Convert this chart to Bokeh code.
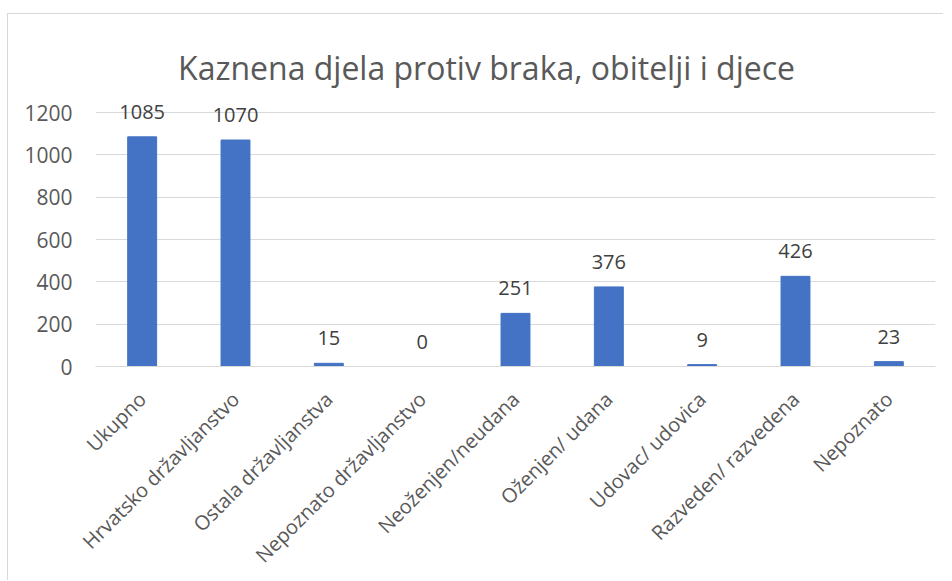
from bokeh.plotting import figure
from bokeh.models import ColumnDataSource, LabelSet, Label, FixedTicker, FactorRange
from bokeh.core.properties import value
from bokeh.embed import file_html
from bokeh.resources import INLINE

categories = ["Ukupno", "Hrvatsko državljanstvo", "Ostala državljanstva",
              "Nepoznato državljanstvo", "Neoženjen/neudana", "Oženjen/ udana",
              "Udovac/ udovica", "Razveden/ razvedena", "Nepoznato"]
values = [1085, 1070, 15, 0, 251, 376, 9, 426, 23]
y_ticks = [0, 200, 400, 600, 800, 1000, 1200]
title_text = "Kaznena djela protiv braka, obitelji i djece"

FONT = "Open Sans"

# page geometry (px)
OFF_X, OFF_Y = 8, 14          # canvas origin on page (after CSS margin + border)
FRAME_L, FRAME_R = 95, 935
FRAME_B = 366
PX_PER_1200 = 254.0
FRAME_T = OFF_Y + 1
W = 944 - OFF_X
H = 581 - OFF_Y
y_end = 1200 * (FRAME_B - FRAME_T) / PX_PER_1200

src = ColumnDataSource(dict(cat=categories, val=values, lab=[str(v) for v in values]))

p = figure(x_range=FactorRange(*categories), y_range=(0, y_end),
           width=W, height=H, output_backend="svg", toolbar_location=None,
           min_border_left=FRAME_L - OFF_X, min_border_right=OFF_X + W - FRAME_R,
           min_border_top=FRAME_T - OFF_Y, min_border_bottom=OFF_Y + H - FRAME_B)
p.styles = {"margin-left": "7px", "margin-top": "13px",
            "border-left": "1px solid #d9d9d9", "border-top": "1px solid #d9d9d9"}
p.outline_line_color = None
p.background_fill_color = "white"
p.border_fill_color = "white"

p.vbar(x="cat", top="val", width=0.31, source=src, color="#4472C4")

labels = LabelSet(x="cat", y="val", text="lab", source=src, text_align="center",
                  text_baseline="alphabetic", y_offset=18, text_font=value(FONT),
                  text_font_size=value("20px"), text_color=value("#404040"))
p.add_layout(labels)

p.yaxis.ticker = FixedTicker(ticks=y_ticks)
p.yaxis.axis_line_color = None
p.yaxis.major_tick_line_color = None
p.yaxis.minor_tick_line_color = None
p.yaxis.major_tick_out = 0
p.yaxis.major_label_standoff = 23
p.yaxis.major_label_text_font = FONT
p.yaxis.major_label_text_font_size = "21px"
p.yaxis.major_label_text_color = "#595959"

p.xaxis.axis_line_color = "#d9d9d9"
p.xaxis.major_tick_line_color = None
p.xaxis.minor_tick_line_color = None
p.xaxis.major_tick_out = 0
p.xaxis.major_label_orientation = 0.785398
p.xaxis.major_label_standoff = 29
p.xaxis.major_label_text_font = FONT
p.xaxis.major_label_text_font_size = "20px"
p.xaxis.major_label_text_color = "#595959"

p.xgrid.grid_line_color = None
p.ygrid.grid_line_color = "#d9d9d9"
p.ygrid.grid_line_width = 1

p.x_range.range_padding = 0

# title centred on the chart area, baseline at page y = 67
cat_w = (FRAME_R - FRAME_L) / len(categories)
title = Label(x=(486 - FRAME_L) / cat_w, y=(FRAME_B - 67) * 1200 / PX_PER_1200,
              text=title_text, text_align="center", text_baseline="alphabetic",
              text_font=FONT, text_font_size="32px", text_color="#595959")
p.add_layout(title)

open("out.html", "w").write(file_html(p, INLINE))
